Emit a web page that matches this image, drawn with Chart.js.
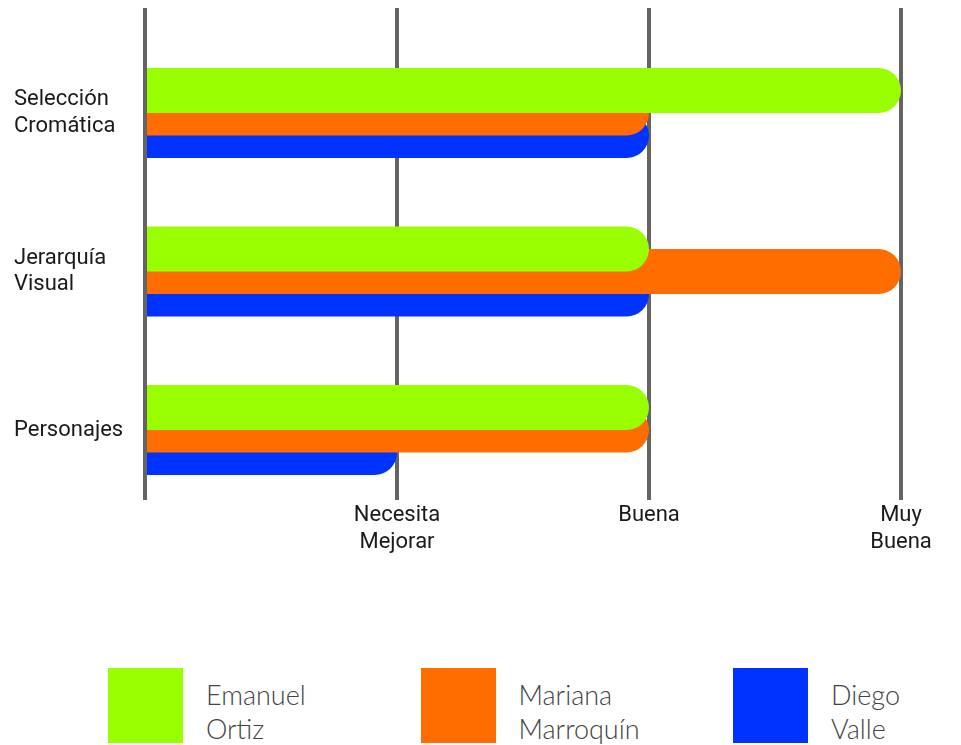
<!DOCTYPE html>
<html lang="es">
<head>
<meta charset="UTF-8">
<title>Evaluación</title>
<script src="https://cdn.jsdelivr.net/npm/chart.js@4.4.0/dist/chart.umd.min.js"></script>
<style>
    html, body { margin: 0; padding: 0; background: #fff; }
    body { width: 961px; height: 745px; position: relative; overflow: hidden; }
    #chart-wrap { position: absolute; left: 0; top: 0; width: 961px; height: 570px; }
    #legend { position: absolute; left: 108px; top: 668px; display: flex; }
    .item { display: flex; width: 312.5px; }
    .box { width: 75px; height: 75px; flex: none; }
    .label { margin-left: 23px; padding-top: 10px; font-family: Lato, sans-serif; font-weight: 300;
             font-size: 27px; line-height: 34px; color: #444; }
</style>
</head>
<body>
<div id="chart-wrap"><canvas id="chart"></canvas></div>
<div id="legend"></div>
<script>
// categories (top to bottom) and rating levels
const categories = ['Selección Cromática', 'Jerarquía Visual', 'Personajes'];
const levels = ['', 'Necesita Mejorar', 'Buena', 'Muy Buena'];

// ratings per person: 1 = Necesita Mejorar, 2 = Buena, 3 = Muy Buena
const names = ['Emanuel Ortiz', 'Mariana Marroquín', 'Diego Valle'];
const emanuel = [3, 2, 2];
const mariana = [2, 3, 2];
const diego = [2, 2, 1];

const colors = ['#99ff00', '#ff6d00', '#0033ff'];
const series = [emanuel, mariana, diego];

const ctx = document.getElementById('chart').getContext('2d');

const chart = new Chart(ctx, {
    type: 'bar',
    data: {
        datasets: series.map((values, i) => ({
            label: names[i],
            data: values.map((v, idx) => ({ x: v, y: idx })),
            backgroundColor: colors[i],
            borderWidth: 0,
            borderRadius: 25,
            categoryPercentage: 0.426,
            barPercentage: 2
        }))
    },
    options: {
        indexAxis: 'y',
        responsive: true,
        maintainAspectRatio: false,
        animation: false,
        layout: { padding: { top: 8, left: 14, right: 60, bottom: 0 } },
        plugins: {
            legend: { display: false },
            tooltip: { enabled: false }
        },
        scales: {
            x: {
                type: 'linear',
                min: 0,
                max: 3,
                z: 1,
                afterFit: s => { s.height = 70; },
                ticks: {
                    stepSize: 1,
                    padding: 2,
                    color: '#1a1a1a',
                    font: { family: 'Roboto', size: 22, lineHeight: 1.22 },
                    callback: v => (levels[v] ? levels[v].split(' ') : '')
                },
                grid: { color: '#646464', lineWidth: 4, drawTicks: false },
                border: { display: false }
            },
            y: {
                type: 'linear',
                bounds: 'data',
                offset: false,
                reverse: true,
                min: -0.6625,
                max: 2.4416,
                afterFit: s => { s.width = 131; s.paddingTop = 0; s.paddingBottom = 0; },
                afterBuildTicks: s => { s.ticks = categories.map((c, i) => ({ value: i })); },
                ticks: {
                    crossAlign: 'far',
                    color: '#1a1a1a',
                    font: { family: 'Roboto', size: 22, lineHeight: 1.22 },
                    callback: v => (categories[v] ? categories[v].split(' ') : '')
                },
                grid: { display: false },
                border: { display: false }
            }
        }
    }
});

// legend built from the same series
const legendEl = document.getElementById('legend');
names.forEach((name, i) => {
    const item = document.createElement('div');
    item.className = 'item';
    item.innerHTML = `<div class="box" style="background:${colors[i]}"></div>` +
        `<div class="label">${name.split(' ').join('<br>')}</div>`;
    legendEl.appendChild(item);
});
</script>
</body>
</html>
